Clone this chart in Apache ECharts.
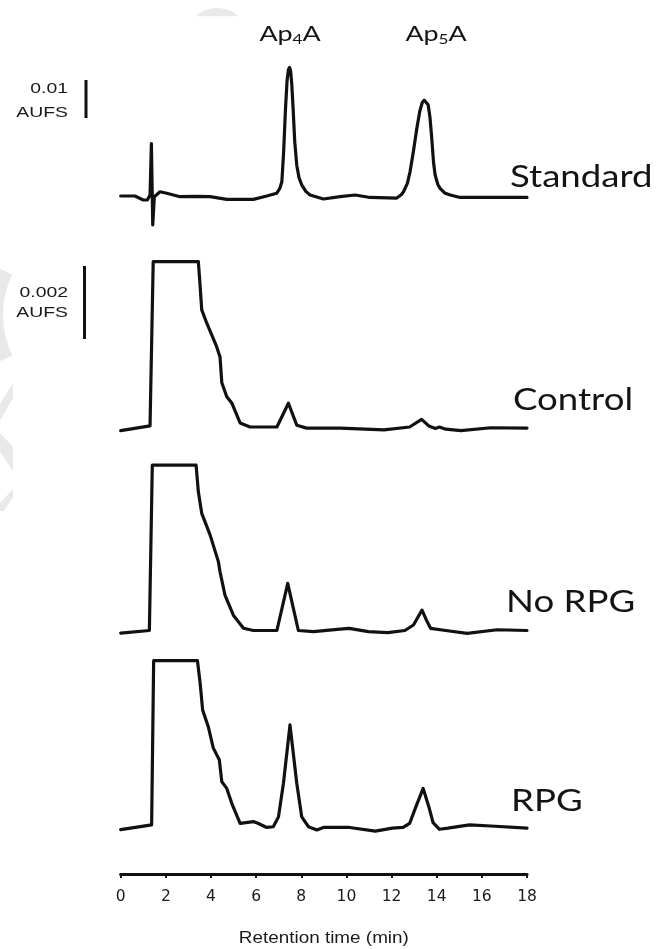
<!DOCTYPE html>
<html><head><meta charset="utf-8">
<script src="https://cdn.jsdelivr.net/npm/echarts@6/dist/echarts.min.js"></script>
<style>html,body{margin:0;padding:0;background:#fff}#c{width:669px;height:949px}</style>
</head><body><div id="c"></div>
<script>
// ================= DATA =================
const traceNames = ['Standard', 'Control', 'No RPG', 'RPG'];
const xMin = 0, xMax = 18, xStep = 2;          // retention time axis (min)
const xAxisTitle = 'Retention time (min)';
const peakLabelParts = [['Ap', '4', 'A'], ['Ap', '5', 'A']];
const scaleBarLabels = ['0.01', '0.002'];
const scaleBarUnit = 'AUFS';
const scaleBarValues = [10, 2];                 // in mAUFS

// [time (min), absorbance (mAUFS, relative to baseline)]
const standardTrace = [
  [0, 0.18], [0.63, 0.18], [1.0, -0.87], [1.18, -0.87], [1.30, 0.44], [1.36, 14.0], [1.42, -7.45], [1.49, 0],
  [1.74, 1.3], [2.04, 0.9], [2.63, 0], [3.37, 0.1], [3.96, 0], [4.70, -0.7], [5.88, -0.7], [6.47, 0.2],
  [6.91, 0.9], [7.05, 2.2], [7.14, 3.95], [7.22, 12], [7.30, 23], [7.37, 30.5], [7.43, 33.4], [7.48, 34.0],
  [7.53, 33.0], [7.58, 29.5], [7.64, 23], [7.71, 14.5], [7.80, 8.3], [7.90, 5], [8.02, 3.1], [8.2, 1.4],
  [8.39, 0.44], [8.98, -0.6], [9.72, 0], [10.39, 0.44], [11.05, -0.2], [12.23, -0.35], [12.43, 0.5],
  [12.53, 1.3], [12.70, 3.5], [12.82, 6.6], [12.97, 12], [13.12, 18], [13.25, 22.5], [13.36, 24.8],
  [13.45, 25.4], [13.53, 25.3], [13.62, 24.2], [13.70, 21], [13.78, 15.4], [13.86, 9], [13.93, 5.7],
  [14.05, 3.2], [14.15, 2.2], [14.35, 1.0], [14.6, 0.44], [15.04, -0.2], [18, -0.2]
];
const controlTrace = [
  [0, -0.1], [1.30, 0.03], [1.37, 0.05], [1.44, 4.53], [3.44, 4.53], [3.51, 3.94], [3.59, 3.21], [3.81, 2.85],
  [4.25, 2.20], [4.40, 1.92], [4.48, 1.21], [4.70, 0.83], [4.92, 0.66], [5.29, 0.11], [5.73, 0], [6.92, 0],
  [7.43, 0.65], [7.80, 0.05], [8.24, -0.03], [9.72, -0.03], [11.66, -0.08], [12.8, 0], [13.33, 0.21],
  [13.65, 0.03], [13.94, -0.04], [14.12, 0], [14.4, -0.06], [15.07, -0.1], [16.4, -0.02], [18, -0.03]
];
const noRpgTrace = [
  [0, -0.07], [1.27, 0], [1.40, 4.53], [3.34, 4.53], [3.44, 3.80], [3.59, 3.21], [3.96, 2.62], [4.33, 1.88],
  [4.40, 1.61], [4.62, 0.97], [4.99, 0.42], [5.44, 0.06], [5.88, 0], [6.92, 0], [7.40, 1.29], [7.87, 0],
  [8.54, -0.03], [9.72, 0.04], [10.12, 0.06], [10.97, -0.03], [11.83, -0.06], [12.59, 0], [12.97, 0.15],
  [13.35, 0.56], [13.54, 0.29], [13.73, 0.06], [14.4, 0], [15.35, -0.08], [16.68, 0.02], [18, 0]
];
const rpgTrace = [
  [0, -0.1], [1.37, 0.03], [1.46, 4.53], [3.40, 4.53], [3.52, 3.91], [3.63, 3.18], [3.88, 2.72], [4.10, 2.14],
  [4.37, 1.81], [4.48, 1.21], [4.70, 1.03], [4.92, 0.62], [5.29, 0.07], [5.88, 0.12], [6.10, 0.07],
  [6.47, -0.04], [6.76, -0.02], [6.99, 0.25], [7.21, 1.17], [7.50, 2.77], [7.80, 1.17], [8.02, 0.25],
  [8.32, -0.02], [8.69, -0.11], [8.98, -0.04], [10.14, -0.04], [11.28, -0.14], [12.04, -0.06], [12.51, -0.04],
  [12.8, 0.07], [13.08, 0.53], [13.4, 1.03], [13.65, 0.53], [13.84, 0.09], [14.12, -0.09], [14.5, -0.06],
  [15.45, 0.03], [16.4, 0.0], [18, -0.06]
];
const traces = [standardTrace, controlTrace, noRpgTrace, rpgTrace];

// ================= LAYOUT =================
const plotLeft = 120.7, plotRight = 527;
// per panel: grid top/bottom, baseline pixel, pixels per mAUFS
const panels = [
  { top: 40,  bottom: 240, base: 196.7, ppu: 3.8 },
  { top: 245, bottom: 445, base: 427,   ppu: 36.5 },
  { top: 450, bottom: 648, base: 630.5, ppu: 36.5 },
  { top: 650, bottom: 845, base: 826,   ppu: 36.5 }
];
const axisLineY = 874;
const labelPos = [
  { x: 510, y: 177 }, { x: 513, y: 400 }, { x: 506, y: 602 }, { x: 511, y: 801 }
];
const peakLabelX = [290, 436], peakLabelY = 34;
const textScaleX = 1.22;
const ink = '#111';

const chart = echarts.init(document.getElementById('c'), null, { renderer: 'canvas' });

const grids = [], xAxes = [], yAxes = [], series = [];
panels.forEach((p, i) => {
  grids.push({ left: plotLeft, width: plotRight - plotLeft, top: p.top, height: p.bottom - p.top });
  xAxes.push({ gridIndex: i, type: 'value', min: xMin, max: xMax, show: false });
  yAxes.push({ gridIndex: i, type: 'value', min: -(p.bottom - p.base) / p.ppu, max: (p.base - p.top) / p.ppu, show: false });
  series.push({
    type: 'line', name: traceNames[i], xAxisIndex: i, yAxisIndex: i, data: traces[i],
    showSymbol: false, symbol: 'none', animation: false, smooth: false,
    lineStyle: { color: ink, width: 3.2, join: 'round', cap: 'round' }
  });
});
// visible time axis
grids.push({ left: plotLeft, width: plotRight - plotLeft, top: axisLineY - 20, height: 20 });
xAxes.push({
  gridIndex: 4, type: 'value', min: xMin, max: xMax, interval: xStep, position: 'bottom',
  axisLine: { show: true, lineStyle: { color: ink, width: 3.2 } },
  axisTick: { show: true, length: 4, lineStyle: { color: ink, width: 2 } },
  splitLine: { show: false },
  axisLabel: { color: '#1a1a1a', fontFamily: 'DejaVu Sans', fontSize: 15.5, margin: 15 }
});
yAxes.push({ gridIndex: 4, type: 'value', show: false });

chart.setOption({
  backgroundColor: '#fff',
  animation: false,
  grid: grids, xAxis: xAxes, yAxis: yAxes, series: series
});

// ---------- annotations ----------
const g = [];
// faint watermark fragments
const wm = '#e9e9e9';
(function () {
  const cx = 217, cy = 40, r = 32, cut = 18, pts = [];
  for (let a = 0; a <= 180; a += 6) {
    const ang = Math.PI + a * Math.PI / 180;
    const px = cx + r * Math.cos(ang), py = cy + r * Math.sin(ang);
    if (py <= cut) pts.push([px, py]);
  }
  g.push({ type: 'polygon', z: -10, silent: true, shape: { points: pts }, style: { fill: wm } });
})();
g.push({ type: 'sector', z: -10, silent: true,
  shape: { cx: 96, cy: 315, r0: 93, r: 110, startAngle: Math.PI - 0.45, endAngle: Math.PI + 0.45 },
  style: { fill: wm } });
g.push({ type: 'polygon', z: -10, silent: true, shape: { points: [[13, 383], [13, 398], [0, 421], [0, 404]] }, style: { fill: wm } });
g.push({ type: 'polygon', z: -10, silent: true, shape: { points: [[0, 433], [13, 447], [13, 471], [0, 452]] }, style: { fill: wm } });
g.push({ type: 'polygon', z: -10, silent: true, shape: { points: [[13, 489], [13, 497], [4, 511], [0, 511], [0, 503]] }, style: { fill: wm } });

// panel labels
traceNames.forEach((name, i) => {
  g.push({ type: 'text', x: labelPos[i].x, y: labelPos[i].y, scaleX: textScaleX,
    style: { text: name, fontFamily: 'Lato', fontSize: 30, fill: '#141414', align: 'left', verticalAlign: 'middle' } });
});
// peak labels with subscripts
peakLabelParts.forEach((parts, i) => {
  g.push({ type: 'text', x: peakLabelX[i], y: peakLabelY, scaleX: textScaleX,
    style: {
      text: '{n|' + parts[0] + '}{s|' + parts[1] + '}{n|' + parts[2] + '}',
      align: 'center', verticalAlign: 'middle',
      rich: {
        n: { fontFamily: 'Lato', fontSize: 22, lineHeight: 24, fill: '#141414' },
        s: { fontFamily: 'Lato', fontSize: 14, lineHeight: 12, verticalAlign: 'bottom', fill: '#141414' }
      }
    } });
});
// scale bars (length derived from panel scale)
const bars = [
  { panel: 0, x: 86, top: 80, labelY: [89, 113] },
  { panel: 1, x: 84.5, top: 266, labelY: [293, 313] }
];
bars.forEach((b, i) => {
  const len = scaleBarValues[i] * panels[b.panel].ppu;
  g.push({ type: 'line', shape: { x1: b.x, y1: b.top, x2: b.x, y2: b.top + len }, style: { stroke: ink, lineWidth: 3 } });
  g.push({ type: 'text', x: 68, y: b.labelY[0], scaleX: 1.25,
    style: { text: scaleBarLabels[i], fontFamily: 'Liberation Sans', fontSize: 15.5, fill: '#1a1a1a', align: 'right', verticalAlign: 'middle' } });
  g.push({ type: 'text', x: 68, y: b.labelY[1], scaleX: 1.25,
    style: { text: scaleBarUnit, fontFamily: 'Liberation Sans', fontSize: 15.5, fill: '#1a1a1a', align: 'right', verticalAlign: 'middle' } });
});
// axis title
g.push({ type: 'text', x: (plotLeft + plotRight) / 2, y: 939, scaleX: 1.18,
  style: { text: xAxisTitle, fontFamily: 'Liberation Sans', fontSize: 16, fill: '#1a1a1a', align: 'center', verticalAlign: 'middle' } });

chart.setOption({ graphic: { elements: g } });
</script>
</body></html>
